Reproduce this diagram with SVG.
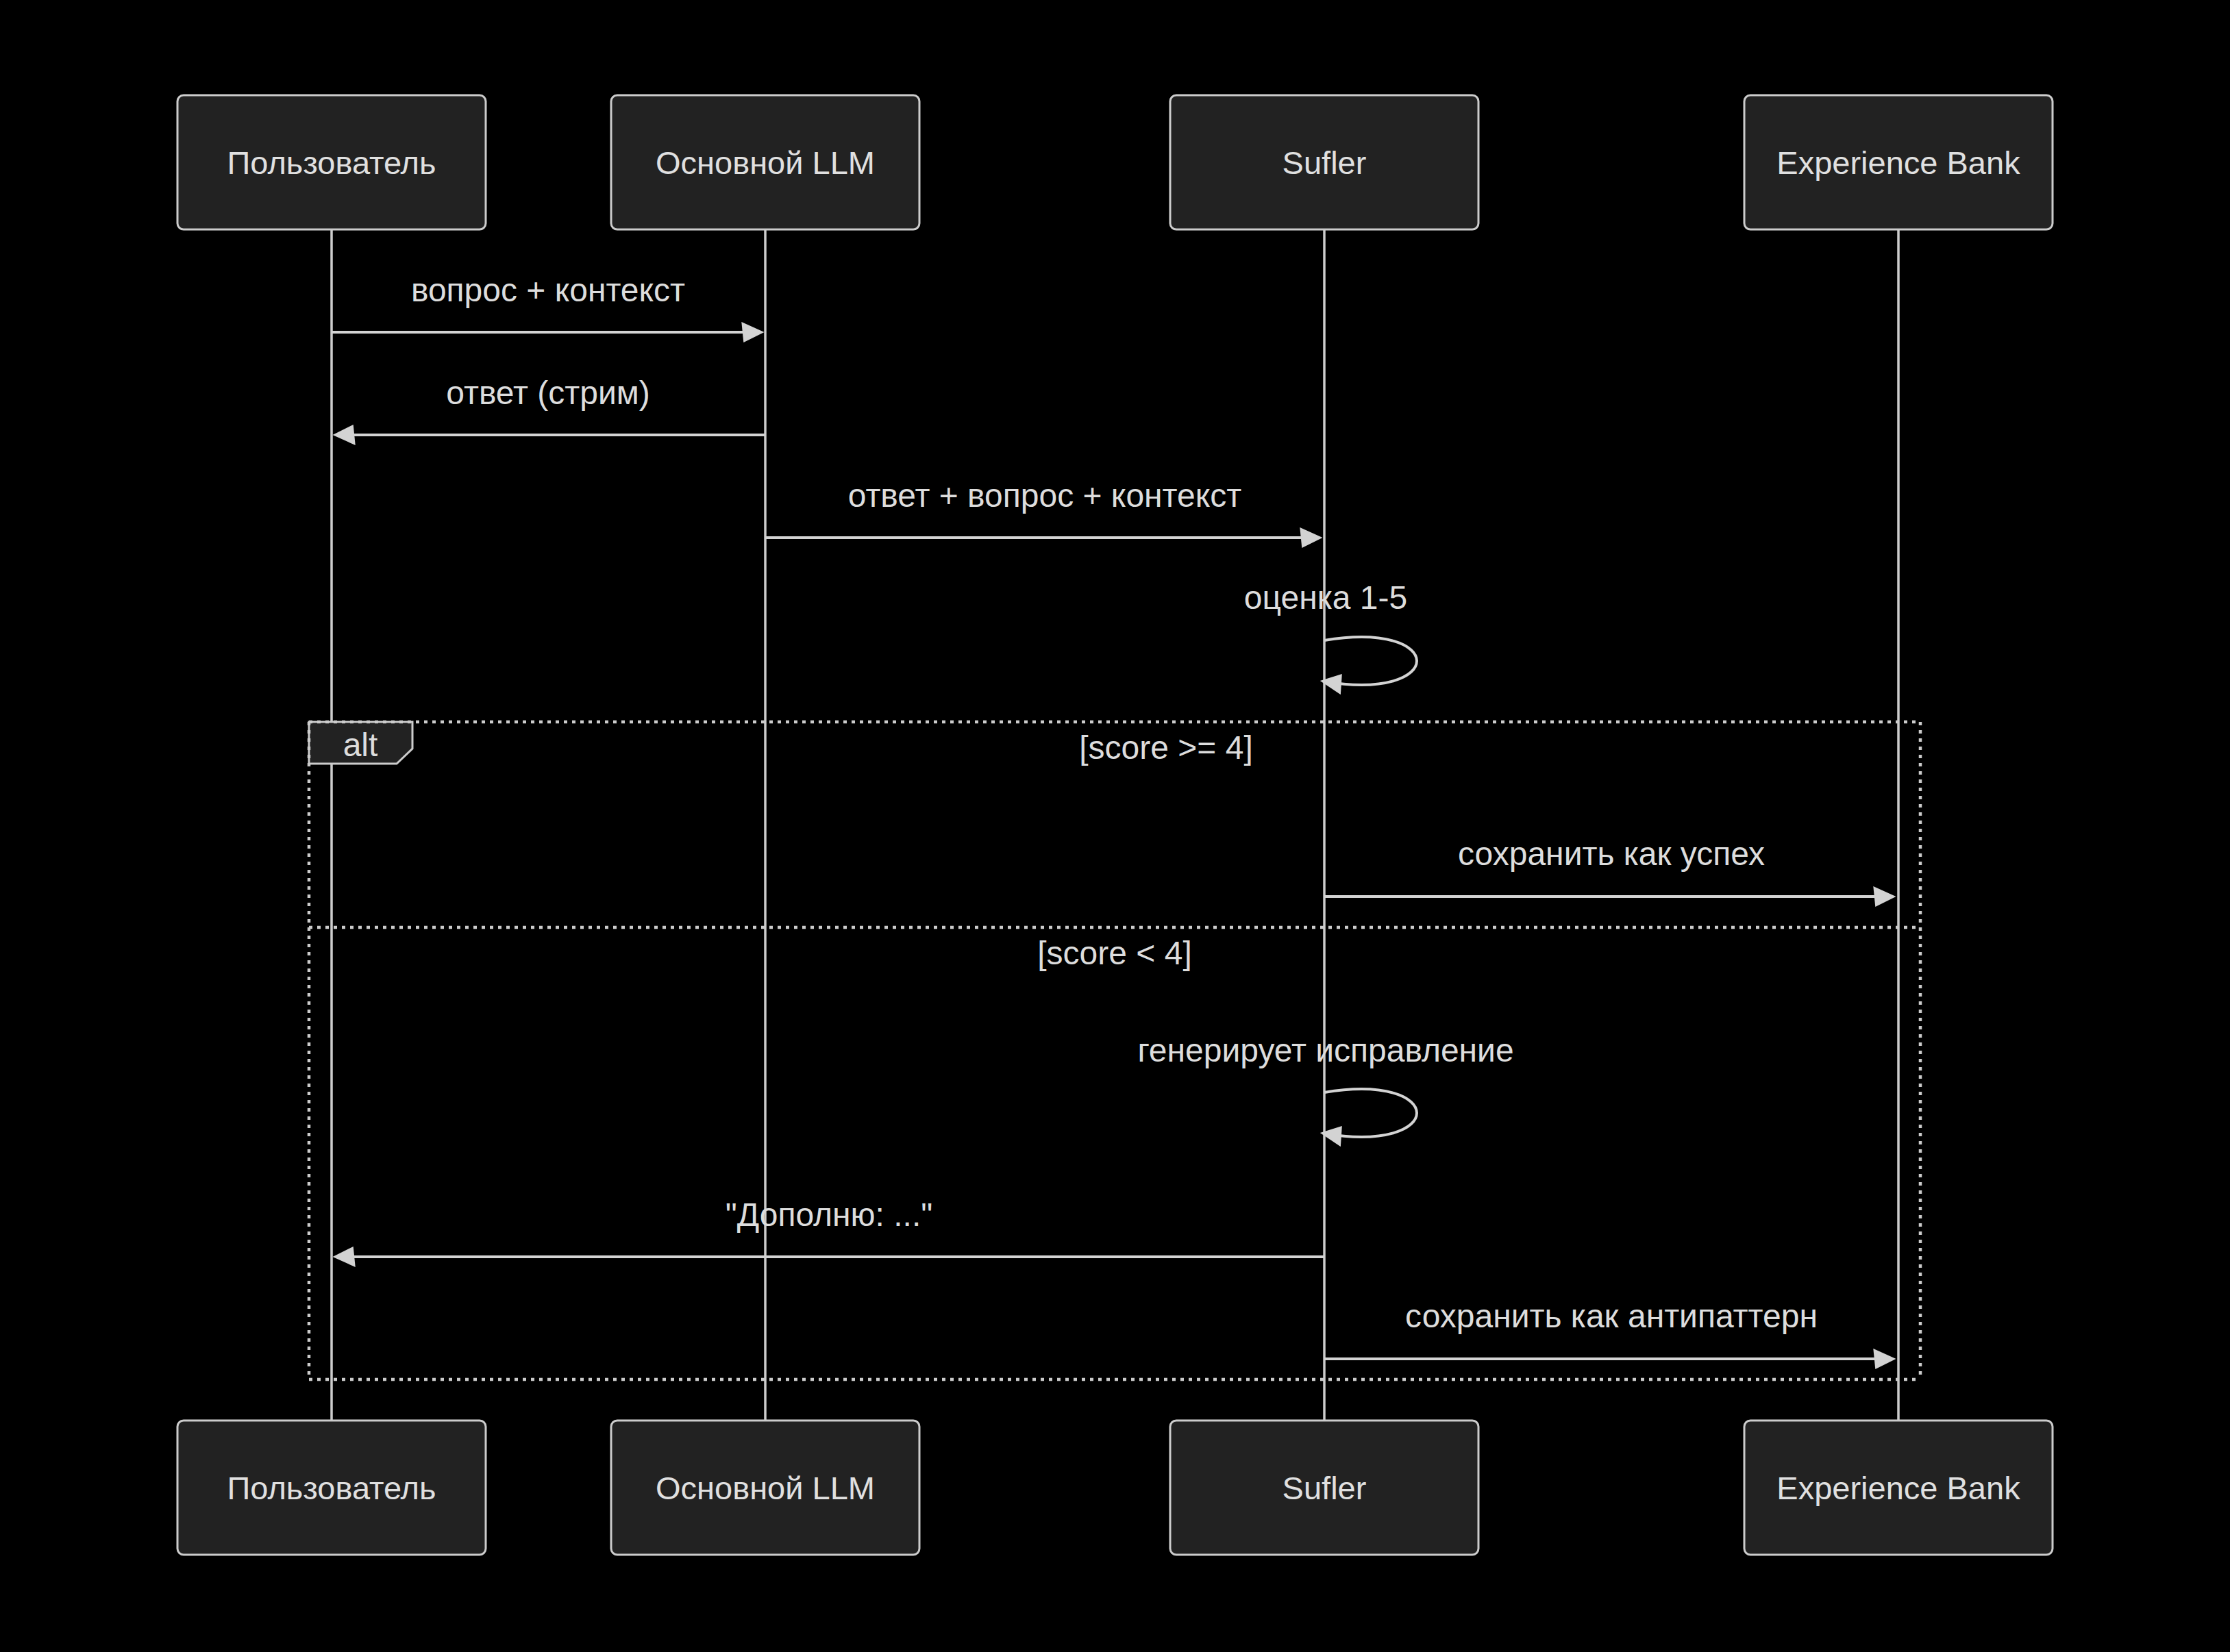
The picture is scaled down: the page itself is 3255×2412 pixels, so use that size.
<svg xmlns="http://www.w3.org/2000/svg" width="3255" height="2412" viewBox="0 0 3255 2412">
<style>
.bg{fill:#000000}
.actor rect{fill:#222222;stroke:#cccccc;stroke-width:3}
.actor text{fill:#e0e0e0;font-family:"Liberation Sans",Arial,sans-serif;font-size:47px;text-anchor:middle;dominant-baseline:central}
.life{stroke:#cccccc;stroke-width:3.5}
.msg{stroke:#d3d3d3;stroke-width:4;fill:none}
.lbl{fill:#dddddd;font-family:"Liberation Sans",Arial,sans-serif;font-size:48px;text-anchor:middle}
.frame{stroke:#cccccc;stroke-width:4.5;stroke-dasharray:5 7;fill:none}
.labelbox{fill:#222222;stroke:#cccccc;stroke-width:3}
</style>
<defs>
<marker id="arrowhead" markerUnits="userSpaceOnUse" viewBox="-1 0 11 10" markerWidth="33" markerHeight="30" refX="7.9" refY="5" orient="auto">
<path d="M -1 0 L 10 5 L 0 10 z" fill="#d3d3d3"/>
</marker>
</defs>
<rect class="bg" x="0" y="0" width="3255" height="2412"/>
<g id="lifelines">
<line class="life" x1="484" y1="335" x2="484" y2="2074"/>
<line class="life" x1="1117" y1="335" x2="1117" y2="2074"/>
<line class="life" x1="1933" y1="335" x2="1933" y2="2074"/>
<line class="life" x1="2771" y1="335" x2="2771" y2="2074"/>
</g>
<g id="actor-user" class="actor">
<rect x="259" y="139" width="450" height="196" rx="9"/>
<text x="484" y="237">Пользователь</text>
<rect x="259" y="2074" width="450" height="196" rx="9"/>
<text x="484" y="2172">Пользователь</text>
</g>
<g id="actor-llm" class="actor">
<rect x="892" y="139" width="450" height="196" rx="9"/>
<text x="1117" y="237">Основной LLM</text>
<rect x="892" y="2074" width="450" height="196" rx="9"/>
<text x="1117" y="2172">Основной LLM</text>
</g>
<g id="actor-sufler" class="actor">
<rect x="1708" y="139" width="450" height="196" rx="9"/>
<text x="1933" y="237">Sufler</text>
<rect x="1708" y="2074" width="450" height="196" rx="9"/>
<text x="1933" y="2172">Sufler</text>
</g>
<g id="actor-bank" class="actor">
<rect x="2546" y="139" width="450" height="196" rx="9"/>
<text x="2771" y="237">Experience Bank</text>
<rect x="2546" y="2074" width="450" height="196" rx="9"/>
<text x="2771" y="2172">Experience Bank</text>
</g>
<g id="connectors">
<text class="lbl" x="800" y="440">вопрос + контекст</text>
<line class="msg" x1="484" y1="485" x2="1109" y2="485" marker-end="url(#arrowhead)"/>
<text class="lbl" x="800" y="590">ответ (стрим)</text>
<line class="msg" x1="1117" y1="635" x2="492" y2="635" marker-end="url(#arrowhead)"/>
<text class="lbl" x="1525" y="740">ответ + вопрос + контекст</text>
<line class="msg" x1="1117" y1="785" x2="1924" y2="785" marker-end="url(#arrowhead)"/>
<text class="lbl" x="1935" y="889">оценка 1-5</text>
<path class="msg" d="M 1933 935 C 2113 905 2113 1025 1933 995" marker-end="url(#arrowhead)"/>
<text class="lbl" x="2352" y="1263">сохранить как успех</text>
<line class="msg" x1="1933" y1="1309" x2="2761" y2="1309" marker-end="url(#arrowhead)"/>
<text class="lbl" x="1935" y="1550">генерирует исправление</text>
<path class="msg" d="M 1933 1595 C 2113 1565 2113 1685 1933 1655" marker-end="url(#arrowhead)"/>
<text class="lbl" x="1210" y="1790">"Дополню: ..."</text>
<line class="msg" x1="1933" y1="1835" x2="492" y2="1835" marker-end="url(#arrowhead)"/>
<text class="lbl" x="2352" y="1938">сохранить как антипаттерн</text>
<line class="msg" x1="1933" y1="1984" x2="2761" y2="1984" marker-end="url(#arrowhead)"/>
</g>
<g id="alt-block">
<polygon class="labelbox" points="451,1054 602,1054 602,1093 579,1115 451,1115"/>
<line class="frame" x1="451" y1="1054" x2="2803" y2="1054"/>
<line class="frame" x1="2803" y1="1054" x2="2803" y2="2014"/>
<line class="frame" x1="451" y1="2014" x2="2803" y2="2014"/>
<line class="frame" x1="451" y1="1054" x2="451" y2="2014"/>
<line class="frame" x1="451" y1="1354" x2="2803" y2="1354"/>
<text class="lbl" x="526" y="1104">alt</text>
<text class="lbl" x="1702" y="1108">[score &gt;= 4]</text>
<text class="lbl" x="1627" y="1408">[score &lt; 4]</text>
</g>
</svg>
